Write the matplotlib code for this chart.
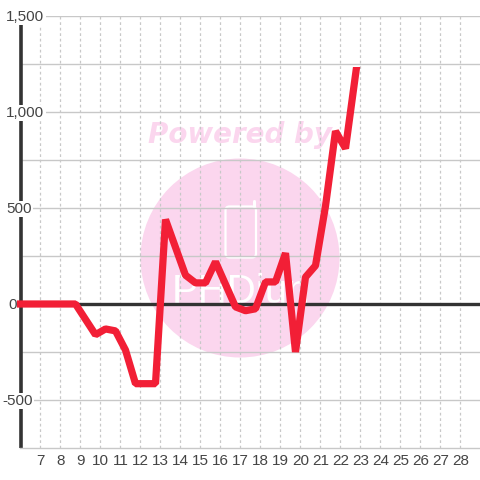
import matplotlib
matplotlib.use('Agg')
import matplotlib.pyplot as plt
from matplotlib.patches import Circle, FancyBboxPatch, Rectangle
from matplotlib.transforms import IdentityTransform

# values
days = [5.75, 6.75, 7.75, 8.75, 9.75, 10.25, 10.75, 11.25, 11.75, 12.75, 13.25,
        14.25, 14.75, 15.25, 15.75, 16.75, 17.25, 17.75, 18.25, 18.75, 19.25,
        19.75, 20.25, 20.75, 21.25, 21.75, 22.25, 22.85]
balance = [0, 0, 0, 0, -160, -130, -140, -240, -415, -415, 440,
           150, 110, 110, 220, -15, -35, -25, 115, 115, 265,
           -250, 140, 200, 510, 900, 810, 1270]

x_ticks = list(range(7, 29))
y_ticks = [-500, 0, 500, 1000, 1500]
y_labels = ['-500', '0', '500', '1,000', '1,500']
y_label_shift = [-18.5, -12.5, -14.5, -14.5, -14.5]  # left edge of each label, px from the axis
y_minor = [-250, 250, 750, 1250]

grid_col = '#c8c8c8'
text_col = '#444444'
dark = '#333333'
red = '#f21f36'
pink = '#fbd6ee'

fig = plt.figure(figsize=(4.8, 4.8), dpi=100)
ax = fig.add_axes([20.5 / 480, 32 / 480, 459.5 / 480, 432 / 480])
ax.set_xlim(6, 28.975)
ax.set_ylim(-750, 1500)
for name in ['top', 'right', 'left']:
    ax.spines[name].set_visible(False)
ax.spines['bottom'].set_color(grid_col)
ax.spines['bottom'].set_linewidth(1.0)

# watermark, placed in pixels
px = IdentityTransform()
ax.add_patch(Circle((240, 222), 99.5, transform=px, color=pink, lw=0, zorder=0.5))
ax.add_patch(FancyBboxPatch((225.5, 222.5), 30.5, 51, boxstyle='round,pad=0,rounding_size=4', transform=px,
                            fc='none', ec='white', lw=1.6, zorder=0.6))
ax.plot([254, 254], [273, 279], transform=px, color='white', lw=2.2, zorder=0.6, solid_capstyle='round')
ax.text(172, 177, 'PHDiun', transform=px, color='white', fontsize=29, family='Liberation Sans',
        ha='left', va='baseline', zorder=0.6)
ax.text(148, 345, 'Powered by', transform=px, color=pink, fontsize=20, family='DejaVu Sans',
        fontweight='bold', style='italic', ha='left', va='center', zorder=0.6)

for t in x_ticks:
    ax.axvline(t, color=grid_col, lw=0.9, ls=(0, (2.2, 2.2)), zorder=1)
for v in y_ticks + y_minor:
    ax.axhline(v, color=grid_col, lw=1.0, zorder=1)

ax.axhline(0, color=dark, lw=2.4, zorder=2)
ax.plot([20.5, 20.5], [32, 456], transform=px, color=dark, lw=2.6, zorder=2,
        solid_capstyle='butt', clip_on=False)

line, = ax.plot(days, balance, color=red, lw=5.2, zorder=6, solid_joinstyle='bevel', solid_capstyle='butt')
line.set_clip_path(Rectangle((17.3, 0), 463, 413, transform=px))

ax.set_xticks(x_ticks)
ax.set_xticklabels([str(t) for t in x_ticks], fontsize=11, color=text_col, family='Liberation Sans')
ax.tick_params(axis='x', length=0, pad=4)
ax.set_yticks([])
for v, lab, dx in zip(y_ticks, y_labels, y_label_shift):
    ax.annotate(lab, (0, v), xycoords=('axes fraction', 'data'), xytext=(dx * 0.72, -5 * 0.72),
                textcoords='offset points', ha='left', va='baseline', fontsize=11, color=text_col,
                family='Liberation Sans', zorder=5, annotation_clip=False,
                bbox=dict(fc='white', ec='none', pad=1.0))

fig.savefig('out.png', dpi=100)
